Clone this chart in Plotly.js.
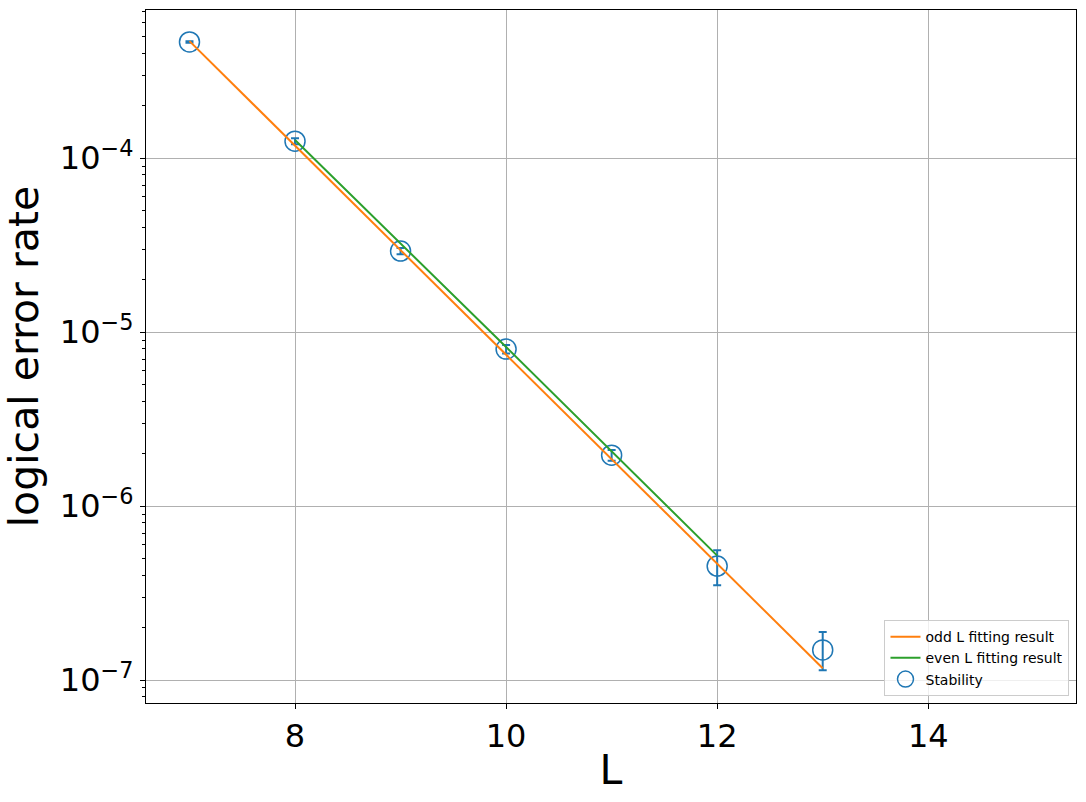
<!DOCTYPE html>
<html>
<head>
<meta charset="utf-8">
<script src="https://cdn.plot.ly/plotly-3.0.1.min.js"></script>
<style>html,body{margin:0;padding:0;background:#fff;}#chart{width:1086px;height:802px;}</style>
</head>
<body>
<div id="chart"></div>
<script>
// Measured data (Stability)
const L_values = [7, 8, 9, 10, 11, 12, 13];
const error_rate = [4.65e-4, 1.25e-4, 2.92e-5, 7.98e-6, 1.96e-6, 4.52e-7, 1.49e-7];
const err_plus  = [0.05e-4, 0.05e-4, 0.12e-5, 0.45e-6, 0.14e-6, 1.06e-7, 0.40e-7];
const err_minus = [0.05e-4, 0.05e-4, 0.12e-5, 0.45e-6, 0.14e-6, 1.01e-7, 0.35e-7];

// Fitted lines
const odd_L = [7, 9, 11, 13];
const odd_fit = [4.70e-4, 2.96e-5, 1.86e-6, 1.17e-7];
const even_L = [8, 10, 12];
const even_fit = [1.27e-4, 8.2e-6, 5.19e-7];

// Tick labels
const x_ticks = [8, 10, 12, 14];
const x_tick_labels = ['8', '10', '12', '14'];
const y_ticks = [1e-7, 1e-6, 1e-5, 1e-4];
const y_tick_labels = ['10<sup>−7</sup>', '10<sup>−6</sup>', '10<sup>−5</sup>', '10<sup>−4</sup>'];

const data = [
  {
    x: L_values, y: error_rate, type: 'scatter', mode: 'markers', name: 'Stability',
    legendrank: 3,
    marker: {symbol: 'circle-open', size: 20, color: '#1f77b4', line: {width: 1.5, color: '#1f77b4'}},
    error_y: {type: 'data', symmetric: false, array: err_plus, arrayminus: err_minus,
              color: '#1f77b4', thickness: 2, width: 4}
  },
  {
    x: odd_L, y: odd_fit, type: 'scatter', mode: 'lines', name: 'odd L fitting result',
    legendrank: 1,
    line: {color: '#ff7f0e', width: 2}
  },
  {
    x: even_L, y: even_fit, type: 'scatter', mode: 'lines', name: 'even L fitting result',
    legendrank: 2,
    line: {color: '#2ca02c', width: 2}
  }
];

const font = 'DejaVu Sans, sans-serif';
const layout = {
  width: 1086, height: 802,
  margin: {l: 146, r: 10, t: 10, b: 99},
  paper_bgcolor: '#fff', plot_bgcolor: '#fff',
  font: {family: font, color: '#000'},
  showlegend: true,
  legend: {
    x: 0.993, y: 0.01, xanchor: 'right', yanchor: 'bottom',
    bgcolor: 'rgba(255,255,255,0.8)', bordercolor: '#cccccc', borderwidth: 1,
    font: {family: font, size: 14, color: '#000'},
    tracegroupgap: 0, itemwidth: 30
  },
  xaxis: {
    range: [6.588, 15.40],
    tickvals: x_ticks,
    ticktext: x_tick_labels,
    ticks: 'outside', ticklen: 5, tickcolor: '#000', tickwidth: 1,
    tickfont: {family: font, size: 32, color: '#000'},
    showgrid: true, gridcolor: '#b0b0b0', gridwidth: 1,
    showline: true, linecolor: '#000', linewidth: 1, mirror: true,
    zeroline: false,
    title: {text: 'L', font: {family: font, size: 41, color: '#000'}, standoff: 0},
    automargin: false
  },
  yaxis: {
    type: 'log',
    range: [-7.132, -3.149],
    tickvals: y_ticks,
    ticktext: y_tick_labels,
    ticks: 'outside', ticklen: 5, tickcolor: '#000', tickwidth: 1,
    tickfont: {family: font, size: 32, color: '#000'},
    minor: {dtick: 'D1', ticks: 'outside', ticklen: 3, tickcolor: '#000', showgrid: false},
    showgrid: true, gridcolor: '#b0b0b0', gridwidth: 1,
    showline: true, linecolor: '#000', linewidth: 1, mirror: true,
    zeroline: false,
    title: {text: 'logical error rate', font: {family: font, size: 41, color: '#000'}, standoff: 8},
    automargin: false
  }
};

Plotly.newPlot('chart', data, layout, {displayModeBar: false, staticPlot: true});
</script>
</body>
</html>
